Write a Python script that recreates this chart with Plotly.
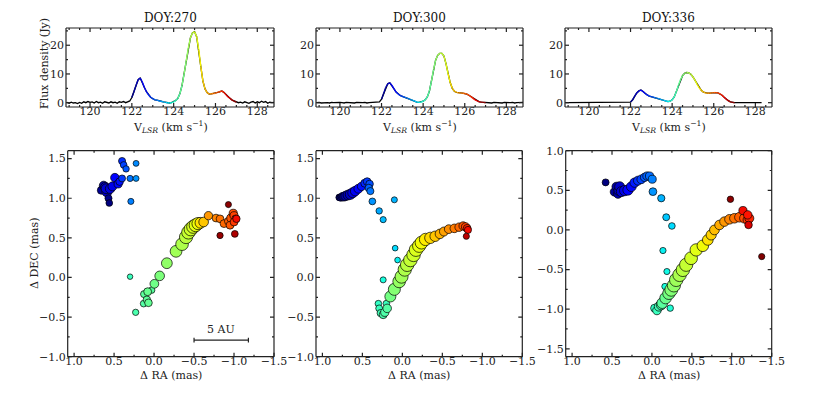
import numpy as np
import plotly.graph_objects as go
from plotly.colors import sample_colorscale

# the page puts the figure 8 px in from the corner, so the figure is 16 px smaller
OFF = 8
W, H = 830 - 2 * OFF, 396 - 2 * OFF
FONT = 'DejaVu Serif'
FRAME = '#222222'

titles = ['DOY:270', 'DOY:300', 'DOY:336']

# spectra: velocity channels (km/s) and flux density (Jy)
vel = [118.9, 119.0, 119.1, 119.2, 119.3, 119.4, 119.5, 119.6, 119.7, 119.8,
       119.9, 120.0, 120.1, 120.2, 120.3, 120.4, 120.5, 120.6, 120.7, 120.8,
       120.9, 121.0, 121.1, 121.2, 121.3, 121.4, 121.5, 121.6, 121.7, 121.8,
       121.9, 122.0, 122.1, 122.2, 122.3, 122.4, 122.5, 122.6, 122.7, 122.8,
       122.9, 123.0, 123.1, 123.2, 123.3, 123.4, 123.5, 123.6, 123.7, 123.8,
       123.9, 124.0, 124.1, 124.2, 124.3, 124.4, 124.5, 124.6, 124.7, 124.8,
       124.9, 125.0, 125.1, 125.2, 125.3, 125.4, 125.5, 125.6, 125.7, 125.8,
       125.9, 126.0, 126.1, 126.2, 126.3, 126.4, 126.5, 126.6, 126.7, 126.8,
       126.9, 127.0, 127.1, 127.2, 127.3, 127.4, 127.5, 127.6, 127.7, 127.8,
       127.9, 128.0, 128.1, 128.2, 128.3, 128.4, 128.5, 128.6, 128.7, 128.8]

flux_270 = [0.1, -0.2, 0.2, -0.1, 0.0, -0.3, 0.1, -0.2, 0.3, 0.0,
            0.4, 0.1, 0.3, -0.1, 0.4, 0.0, 0.2, -0.2, 0.3, 0.1,
            -0.1, 0.3, 0.0, 0.2, -0.2, 0.3, 0.1, 0.4, 0.0, 0.3,
            0.6, 1.8, 3.8, 6.0, 8.0, 8.6, 7.2, 5.3, 3.8, 2.7,
            1.9, 1.4, 1.0, 0.9, 0.6, 0.5, 0.3, 0.1, 0.0, -0.1,
            0.0, 0.3, 0.8, 1.5, 3.2, 6.0, 10.0, 14.5, 19.0, 22.5,
            24.3, 24.7, 23.0, 18.5, 12.5, 7.5, 4.8, 3.5, 3.0, 3.1,
            3.2, 3.3, 3.6, 3.8, 4.1, 3.6, 2.8, 2.0, 1.5, 0.9,
            0.5, 0.2, 0.0, 0.2, -0.1, 0.3, 0.0, -0.2, 0.2, 0.4,
            -0.1, 0.3, 0.0, 0.5, 0.1, 0.4, -0.2, 0.2, 0.0, 0.1]

flux_300 = [0.0, 0.1, -0.1, 0.0, 0.1, 0.0, -0.1, 0.1, 0.0, 0.1,
            0.0, 0.1, 0.0, -0.1, 0.1, 0.0, 0.1, 0.0, -0.1, 0.1,
            0.0, 0.1, 0.0, 0.1, -0.1, 0.0, 0.1, 0.0, 0.1, 0.2,
            0.3, 1.2, 3.2, 5.3, 6.6, 6.9, 6.0, 4.8, 3.7, 3.0,
            2.5, 2.2, 1.9, 1.7, 1.4, 1.1, 0.8, 0.5, 0.2, 0.1,
            0.2, 0.5, 1.0, 2.0, 4.0, 7.5, 11.5, 14.8, 16.5, 17.2,
            17.2, 16.2, 13.5, 10.0, 7.0, 5.0, 4.0, 3.6, 3.4, 3.4,
            3.3, 3.2, 3.0, 2.6, 2.1, 1.5, 1.0, 0.6, 0.3, 0.2,
            0.1, 0.0, 0.1, 0.0, -0.1, 0.1, 0.0, 0.1, 0.0, -0.1,
            0.1, 0.0, 0.1, 0.0, 0.1, -0.1, 0.0, 0.1, 0.0, 0.1]

flux_336 = [0.0, 0.0, 0.0, 0.0, 0.0, 0.0, 0.0, 0.0, 0.0, 0.0,
            0.0, 0.0, 0.0, 0.0, 0.0, 0.0, 0.0, 0.0, 0.0, 0.0,
            0.0, 0.0, 0.0, 0.0, 0.0, 0.0, 0.0, 0.0, 0.0, 0.0,
            0.0, 0.2, 1.0, 2.3, 3.4, 4.1, 4.4, 3.9, 3.2, 2.7,
            2.3, 2.1, 1.9, 1.7, 1.5, 1.3, 1.0, 0.8, 0.6, 0.4,
            0.5, 1.0, 2.0, 3.8, 6.0, 8.0, 9.4, 10.2, 10.5, 10.4,
            9.9, 9.0, 7.8, 6.4, 5.2, 4.3, 3.7, 3.4, 3.3, 3.3,
            3.4, 3.5, 3.5, 3.4, 3.1, 2.6, 1.9, 1.2, 0.7, 0.3,
            0.1, 0.0, 0.0, 0.0, 0.0, 0.0, 0.0, 0.0, 0.0, 0.0,
            0.0, 0.0, 0.0, 0.0, 0.0]

# maser spots: offsets (mas), velocity (km/s) and flux (Jy)
ra_270 = [0.66, 0.63, 0.61, 0.59, 0.60, 0.55, 0.57, 0.56, 0.52, 0.49,
          0.45, 0.43, 0.40, 0.38, 0.35, 0.40, 0.30, 0.225, 0.225, 0.29,
          0.30, 0.23, 0.13, 0.125, 0.09, 0.07, 0.03, 0.08, -0.004, -0.07,
          -0.16, -0.275, -0.35, -0.40, -0.43, -0.46, -0.49, -0.52, -0.55, -0.58,
          -0.62, -0.68, -0.775, -0.825, -0.875, -0.93, -0.96, -0.99, -1.0, -0.95,
          -1.02, -1.0, -1.03, -0.93, -0.825, -1.01]
dec_270 = [1.10, 1.16, 1.14, 1.08, 1.12, 1.12, 1.00, 0.94, 1.15, 1.26,
           1.18, 1.21, 1.47, 1.42, 1.37, 1.25, 1.25, 1.25, 1.44, 0.96,
           0.01, -0.44, -0.33, -0.21, -0.28, -0.32, -0.16, -0.18, -0.08, 0.02,
           0.18, 0.33, 0.42, 0.51, 0.57, 0.61, 0.64, 0.66, 0.68, 0.69,
           0.70, 0.78, 0.75, 0.74, 0.68, 0.71, 0.75, 0.81, 0.78, 0.66,
           0.74, 0.70, 0.74, 0.92, 0.53, 0.55]
v_270 = [122.1, 122.2, 122.25, 122.3, 122.35, 122.4, 122.05, 122.0, 122.45, 122.6,
         122.65, 122.7, 122.85, 122.95, 123.05, 122.9, 123.2, 123.35, 123.3, 123.25,
         124.1, 124.2, 124.25, 124.3, 124.32, 124.35, 124.28, 124.38, 124.42, 124.5,
         124.62, 124.72, 124.8, 124.88, 124.95, 125.0, 125.05, 125.12, 125.2, 125.35,
         125.5, 125.75, 125.85, 125.95, 126.0, 126.05, 126.1, 126.15, 126.2, 126.1,
         126.3, 126.25, 126.5, 126.95, 126.9, 126.8]
f_270 = [3.5, 5.5, 7.5, 8.7, 8.5, 7.5, 2.0, 1.5, 6.0, 5.0,
         3.8, 3.0, 2.0, 1.5, 1.1, 1.8, 0.9, 0.6, 0.6, 0.8,
         0.3, 1.0, 1.5, 2.0, 2.5, 3.0, 1.2, 3.5, 5.5, 8.0,
         12.0, 16.0, 20.0, 23.0, 24.5, 24.5, 23.0, 22.0, 18.0, 12.0,
         8.0, 4.5, 3.2, 3.2, 3.4, 3.6, 3.9, 4.0, 3.8, 3.5,
         3.1, 3.4, 2.5, 0.8, 1.0, 1.6]

ra_300 = [0.79, 0.77, 0.75, 0.73, 0.71, 0.68, 0.65, 0.62, 0.59, 0.55,
          0.51, 0.47, 0.44, 0.41, 0.42, 0.40, 0.375, 0.29, 0.24, 0.10,
          0.09, 0.06, 0.24, 0.125, 0.30, 0.29, 0.27, 0.24, 0.22, 0.20,
          0.19, 0.15, 0.10, 0.04, 0.01, -0.03, -0.06, -0.10, -0.14, -0.17,
          -0.21, -0.24, -0.29, -0.35, -0.41, -0.47, -0.52, -0.58, -0.65, -0.71,
          -0.76, -0.79, -0.81, -0.82, -0.80]
dec_300 = [1.01, 1.01, 1.02, 1.02, 1.03, 1.04, 1.05, 1.07, 1.09, 1.12,
           1.15, 1.19, 1.21, 1.18, 1.13, 1.09, 0.96, 0.84, 0.73, 0.98,
           0.37, 0.22, -0.03, -0.13, -0.33, -0.39, -0.45, -0.47, -0.44, -0.33,
           -0.39, -0.24, -0.15, -0.05, 0.01, 0.10, 0.16, 0.22, 0.285, 0.35,
           0.40, 0.44, 0.48, 0.50, 0.52, 0.55, 0.58, 0.61, 0.62, 0.635,
           0.65, 0.64, 0.62, 0.60, 0.52]
v_300 = [122.0, 122.05, 122.1, 122.15, 122.2, 122.25, 122.3, 122.4, 122.5, 122.6,
         122.7, 122.8, 122.9, 123.0, 123.1, 123.2, 123.35, 123.45, 123.55, 123.5,
         123.7, 123.8, 123.9, 123.95, 124.05, 124.1, 124.15, 124.2, 124.22, 124.1,
         124.25, 124.45, 124.55, 124.65, 124.72, 124.8, 124.87, 124.94, 125.0, 125.07,
         125.15, 125.22, 125.3, 125.4, 125.5, 125.6, 125.7, 125.8, 125.9, 126.0,
         126.1, 126.2, 126.35, 126.5, 126.75]
f_300 = [1.0, 2.0, 3.0, 4.0, 5.0, 6.0, 6.9, 6.5, 5.5, 4.2,
         3.3, 2.6, 2.2, 2.0, 1.8, 1.5, 1.1, 0.8, 0.6, 0.5,
         0.3, 0.3, 0.5, 0.6, 0.9, 1.2, 1.8, 2.5, 2.9, 1.0,
         3.5, 9.0, 12.0, 14.0, 15.5, 16.5, 17.0, 17.2, 17.2, 16.8,
         16.3, 15.0, 13.0, 10.0, 7.5, 5.5, 4.3, 3.8, 3.6, 3.4,
         3.2, 3.0, 2.4, 1.5, 0.6]

ra_336 = [0.58, 0.47, 0.445, 0.425, 0.417, 0.404, 0.383, 0.342, 0.30, 0.258,
          0.217, 0.175, 0.133, 0.092, 0.0625, 0.03, -0.004, -0.0125, -0.117, -0.179,
          -0.25, -0.138, -0.1875, -0.1625, -0.229, -0.033, -0.0625, -0.0875, -0.117, -0.129,
          -0.171, -0.2125, -0.242, -0.275, -0.304, -0.346, -0.3875, -0.429, -0.49, -0.554,
          -0.6375, -0.70, -0.742, -0.783, -0.846, -0.908, -0.971, -1.033, -1.096, -1.158,
          -1.2, -1.22, -1.14, -1.2, -1.21, -0.983, -1.375]
dec_336 = [0.60, 0.48, 0.546, 0.454, 0.496, 0.546, 0.483, 0.496, 0.504, 0.546,
           0.597, 0.622, 0.639, 0.664, 0.68, 0.68, 0.64, 0.483, 0.40, 0.16,
           0.05, -0.26, -0.525, -0.714, -0.987, -0.987, -1.017, -0.966, -0.945, -0.924,
           -0.86, -0.80, -0.756, -0.70, -0.63, -0.567, -0.504, -0.44, -0.357, -0.252,
           -0.20, -0.126, -0.063, 0.0, 0.063, 0.105, 0.134, 0.147, 0.16, 0.147,
           0.126, 0.147, 0.244, 0.19, 0.063, 0.387, -0.336]
v_336 = [122.0, 122.1, 122.15, 122.2, 122.25, 122.3, 122.35, 122.45, 122.55, 122.65,
         122.75, 122.85, 122.95, 123.05, 123.1, 123.15, 123.25, 123.35, 123.5, 123.6,
         123.7, 123.8, 123.85, 123.9, 123.95, 124.05, 124.1, 124.15, 124.2, 124.28,
         124.38, 124.46, 124.54, 124.62, 124.7, 124.78, 124.86, 124.94, 125.02, 125.12,
         125.22, 125.35, 125.45, 125.55, 125.65, 125.75, 125.85, 125.95, 126.05, 126.15,
         126.25, 126.35, 126.5, 126.45, 126.6, 126.95, 127.0]
f_336 = [0.8, 2.0, 2.5, 2.3, 3.2, 3.8, 4.0, 4.4, 4.3, 3.6,
         3.1, 2.6, 2.3, 2.0, 1.9, 1.8, 1.6, 1.4, 1.0, 0.8,
         0.6, 0.4, 0.35, 0.4, 0.5, 1.5, 2.1, 3.0, 4.0, 5.0,
         6.5, 8.0, 9.0, 9.8, 10.3, 10.5, 10.3, 9.8, 9.0, 8.0,
         6.5, 5.0, 4.2, 3.6, 3.3, 3.3, 3.4, 3.4, 3.5, 3.4,
         3.1, 2.6, 1.8, 2.0, 1.2, 0.5, 0.4]

spectra = [flux_270, flux_300, flux_336]
spots = [(ra_270, dec_270, v_270, f_270),
         (ra_300, dec_300, v_300, f_300),
         (ra_336, dec_336, v_336, f_336)]
dec_ranges = [[-1.0, 1.6], [-1.0, 1.6], [-1.6, 1.0]]

VMIN, VMAX = 122.0, 127.0

# matplotlib-like jet colorscale
knots = [0, 0.11, 0.125, 0.34, 0.35, 0.375, 0.64, 0.65, 0.66, 0.89, 0.91, 1]
rr = np.interp(knots, [0, 0.35, 0.66, 0.89, 1], [0, 0, 1, 1, 0.5])
gg = np.interp(knots, [0, 0.125, 0.375, 0.64, 0.91, 1], [0, 0, 1, 1, 0, 0])
bb = np.interp(knots, [0, 0.11, 0.34, 0.65, 1], [0.5, 1, 1, 0, 0])
jet = [[k, 'rgb(%d,%d,%d)' % (round(255*r), round(255*g), round(255*b))]
       for k, r, g, b in zip(knots, rr, gg, bb)]

# panel boxes in window pixels (left, right) and (top, bottom)
top_x = [(66, 274), (316, 523), (565, 772)]
top_y = (28, 107)
bot_x = [(67.7, 274), (316, 522.3), (565.7, 771.7)]
bot_y = (150.7, 356.7)
PADPX = 2   # axes reach 2 px past the drawn box so the box is not clipped


def fx(p):
    return (p - OFF) / W


def fy(p):
    return 1 - (p - OFF) / H


def ax_name(kind, n):
    return kind if n == 1 else '%s%d' % (kind, n)


def axis_style():
    return dict(showline=False, ticks='', showgrid=False, zeroline=False,
                automargin=False, tickfont=dict(family=FONT, size=11, color='#222222'))


def padded(r, npx):
    d = (r[1] - r[0]) / npx * PADPX
    return [r[0] - d, r[1] + d]


def tick_list(lo, hi, step, major):
    lo, hi = min(lo, hi), max(lo, hi)
    out = []
    for t in np.arange(np.ceil(lo / step - 1e-9) * step, hi + 1e-9, step):
        is_major = abs(t / major - round(t / major)) < 1e-6
        out.append((float(t), 4 if is_major else 2))
    return out


shapes = []


def frame(xn, yn, xr, yr, xstep, xmajor, ystep, ymajor, wpx, hpx):
    # box and inward ticks on all four sides, as data-space line shapes
    x0, x1 = xr
    y0, y1 = yr
    dx = (x1 - x0) / wpx
    dy = (y1 - y0) / hpx
    segs = [(x0, y0, x1, y0), (x1, y0, x1, y1), (x1, y1, x0, y1), (x0, y1, x0, y0)]
    for t, L in tick_list(x0, x1, xstep, xmajor):
        segs += [(t, y0, t, y0 + L * dy), (t, y1, t, y1 - L * dy)]
    for t, L in tick_list(y0, y1, ystep, ymajor):
        segs += [(x0, t, x0 + L * dx, t), (x1, t, x1 - L * dx, t)]
    for a, b, c, d in segs:
        shapes.append(dict(type='line', xref=xn, yref=yn, x0=a, y0=b, x1=c, y1=d,
                           line=dict(color=FRAME, width=1.2)))


fig = go.Figure()
layout = dict(template='none', width=W, height=H, autosize=False,
              margin=dict(l=0, r=0, t=0, b=0, pad=0),
              paper_bgcolor='white', plot_bgcolor='white', showlegend=False)
annotations = []

for i in range(3):
    # spectrum panel
    n = i + 1
    xa, ya = ax_name('x', n), ax_name('y', n)
    flux = spectra[i]
    v = vel[:len(flux)]
    fig.add_trace(go.Scatter(x=v, y=flux, mode='lines', xaxis=xa, yaxis=ya,
                             line=dict(color='black', width=1.3), hoverinfo='skip'))
    for k in range(len(v) - 1):
        mid = (v[k] + v[k + 1]) / 2
        if VMIN <= mid <= VMAX:
            c = sample_colorscale(jet, [(mid - VMIN) / (VMAX - VMIN)])[0]
            fig.add_trace(go.Scatter(x=[v[k], v[k + 1]], y=[flux[k], flux[k + 1]],
                                     mode='lines', xaxis=xa, yaxis=ya,
                                     line=dict(color=c, width=1.4), hoverinfo='skip'))
    xr, yr = [118.85, 128.8], [-1.5, 26]
    wpx, hpx = top_x[i][1] - top_x[i][0], top_y[1] - top_y[0]
    frame(xa, ya, xr, yr, 0.5, 2, 5, 10, wpx, hpx)
    layout[ax_name('xaxis', n)] = dict(axis_style(),
                                       domain=[fx(top_x[i][0] - PADPX), fx(top_x[i][1] + PADPX)],
                                       anchor=ya, range=padded(xr, wpx),
                                       tickvals=[120, 122, 124, 126, 128], ticklabelstandoff=-6)
    layout[ax_name('yaxis', n)] = dict(axis_style(),
                                       domain=[fy(top_y[1] + PADPX), fy(top_y[0] - PADPX)],
                                       anchor=xa, range=padded(yr, hpx), tickvals=[0, 10, 20],
                                       ticklabelstandoff=-1)

    # spot map panel
    m = i + 4
    xb, yb = 'x%d' % m, 'y%d' % m
    ra, dec, vv, ff = spots[i]
    fmax = max(ff)
    sizes = [4.5 + 9 * np.sqrt(max(f, 0) / fmax) for f in ff]
    fig.add_trace(go.Scatter(x=ra, y=dec, mode='markers', xaxis=xb, yaxis=yb,
                             marker=dict(size=sizes, color=vv, colorscale=jet,
                                         cmin=VMIN, cmax=VMAX, opacity=1,
                                         line=dict(color='black', width=0.7)),
                             hoverinfo='skip'))
    xr, yr = [1.08, -1.5], dec_ranges[i]
    wpx, hpx = bot_x[i][1] - bot_x[i][0], bot_y[1] - bot_y[0]
    frame(xb, yb, xr, yr, 0.25, 0.5, 0.25, 0.5, wpx, hpx)
    layout['xaxis%d' % m] = dict(axis_style(),
                                 domain=[fx(bot_x[i][0] - PADPX), fx(bot_x[i][1] + PADPX)],
                                 anchor=yb, range=padded(xr, wpx), dtick=0.5, tickformat='.1f',
                                 ticklabelstandoff=-6)
    layout['yaxis%d' % m] = dict(axis_style(),
                                 domain=[fy(bot_y[1] + PADPX), fy(bot_y[0] - PADPX)],
                                 anchor=xb, range=padded(yr, hpx), dtick=0.5, tickformat='.1f',
                                 ticklabelstandoff=-1)

    cx = fx((top_x[i][0] + top_x[i][1]) / 2)
    annotations.append(dict(text=titles[i], x=cx, y=fy(18), xref='paper', yref='paper',
                            xanchor='center', yanchor='middle', showarrow=False,
                            font=dict(family=FONT, size=12, color='#111111')))
    annotations.append(dict(text='V<sub><i>LSR</i></sub> (km s<sup>\u22121</sup>)',
                            x=cx, y=fy(127), xref='paper', yref='paper',
                            xanchor='center', yanchor='middle', showarrow=False,
                            font=dict(family=FONT, size=11, color='#222222')))
    cbx = fx((bot_x[i][0] + bot_x[i][1]) / 2)
    annotations.append(dict(text='\u0394 RA (mas)', x=cbx, y=fy(375),
                            xref='paper', yref='paper', xanchor='center', yanchor='middle',
                            showarrow=False, font=dict(family=FONT, size=11, color='#222222')))

annotations.append(dict(text='Flux density (Jy)', x=fx(44), y=fy(64), textangle=-90,
                        xref='paper', yref='paper', xanchor='center', yanchor='middle',
                        showarrow=False, font=dict(family=FONT, size=11, color='#222222')))
annotations.append(dict(text='\u0394 DEC (mas)', x=fx(34), y=fy(254), textangle=-90,
                        xref='paper', yref='paper', xanchor='center', yanchor='middle',
                        showarrow=False, font=dict(family=FONT, size=11, color='#222222')))

# 5 AU scale bar in the first map
bar_x0, bar_x1, bar_y = -0.5, -1.18, -0.79
annotations.append(dict(text='5 AU', x=(bar_x0 + bar_x1) / 2, y=bar_y, xref='x4', yref='y4',
                        xanchor='center', yanchor='bottom', yshift=2, showarrow=False,
                        font=dict(family=FONT, size=11, color='#222222')))
shapes.append(dict(type='line', xref='x4', yref='y4', x0=bar_x0, x1=bar_x1, y0=bar_y, y1=bar_y,
                   line=dict(color='#222222', width=1.2)))
for bx in (bar_x0, bar_x1):
    shapes.append(dict(type='line', xref='x4', yref='y4', x0=bx, x1=bx,
                       y0=bar_y - 0.03, y1=bar_y + 0.03, line=dict(color='#222222', width=1.2)))

layout['annotations'] = annotations
layout['shapes'] = shapes
fig.update_layout(**layout)
fig.write_html('out.html')
